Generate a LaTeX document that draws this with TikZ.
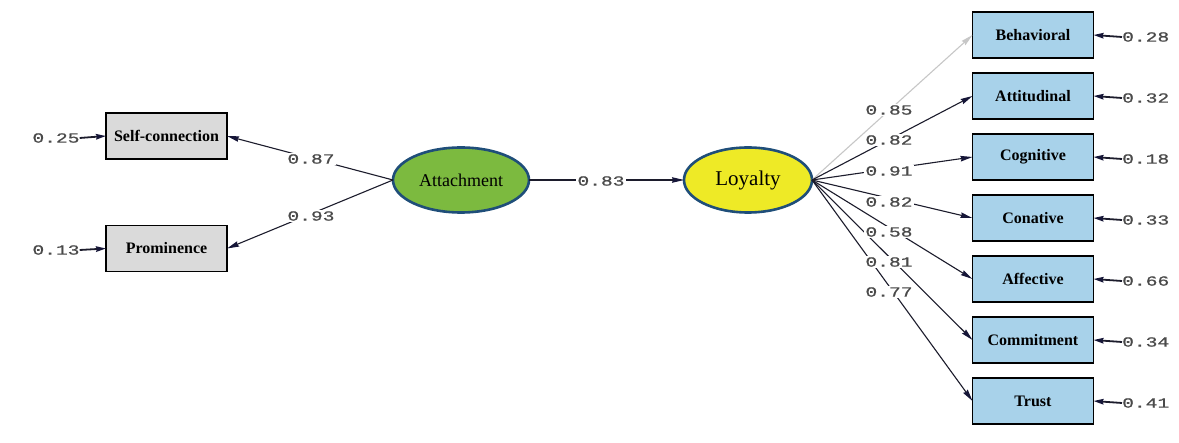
\documentclass[tikz,border=0pt]{standalone}
\usepackage{fontspec}
\setmainfont{Liberation Serif}
\newfontfamily\coeffont[FakeStretch=1.4,FakeBold=0.8]{Liberation Mono}
\usetikzlibrary{arrows.meta,shapes.geometric}

\definecolor{inkline}{HTML}{1C1C2C}
\definecolor{tipnavy}{HTML}{161638}
\definecolor{coefgray}{HTML}{4A4A4A}
\definecolor{obsgray}{HTML}{DADADA}
\definecolor{obsblue}{HTML}{A8D2EA}
\definecolor{latborder}{HTML}{1F4E79}
\definecolor{attgreen}{HTML}{7CBA3F}
\definecolor{loyyellow}{HTML}{EEEA26}

\tikzset{
  obsbox/.style={draw=black, line width=1.8pt, minimum width=121pt, minimum height=46pt,
    inner sep=0pt, outer sep=0pt, font=\fontsize{16}{18}\selectfont\bfseries},
  latent/.style={ellipse, draw=latborder, line width=2.6pt, inner sep=0pt, outer sep=0pt},
  path/.style={draw=inkline, line width=1.1pt,
    -{Stealth[length=12pt,width=5.5pt,inset=1pt,color=tipnavy]}},
  errpath/.style={draw=inkline, line width=1.8pt,
    -{Stealth[length=10pt,width=5.5pt,inset=1pt,color=tipnavy]}},
  coef/.style={fill=white, inner sep=1pt, text=coefgray, font=\coeffont\fontsize{14}{14}\selectfont},
  errlbl/.style={inner sep=0pt, text=coefgray, font=\coeffont\fontsize{14}{14}\selectfont}
}

\begin{document}
\begin{tikzpicture}[x=1pt,y=-1pt]
  \fill[white] (0,0) rectangle (1179,443);
  \useasboundingbox (0,0) rectangle (1179,443);

  % latent variables
  \node[latent, fill=attgreen, minimum width=136pt, minimum height=65pt,
        font=\fontsize{18}{20}\selectfont] (att) at (461,180) {Attachment};
  \node[latent, fill=loyyellow, minimum width=128pt, minimum height=65pt,
        font=\fontsize{21}{23}\selectfont] (loy) at (748,180) {Loyalty};

  % indicators of attachment
  \node[obsbox, fill=obsgray] (sc) at (166.5,136) {Self-connection};
  \node[obsbox, fill=obsgray] (pr) at (166.5,248.5) {Prominence};

  % indicators of loyalty
  \node[obsbox, fill=obsblue] (beh) at (1033,35)  {Behavioral};
  \node[obsbox, fill=obsblue] (atd) at (1033,96)  {Attitudinal};
  \node[obsbox, fill=obsblue] (cog) at (1033,157) {Cognitive};
  \node[obsbox, fill=obsblue] (con) at (1033,218) {Conative};
  \node[obsbox, fill=obsblue] (aff) at (1033,279) {Affective};
  \node[obsbox, fill=obsblue] (com) at (1033,340) {Commitment};
  \node[obsbox, fill=obsblue] (tru) at (1033,401) {Trust};

  % loadings
  \draw[path] (att.west) -- (sc.east);
  \draw[path] (att.west) -- (pr.east);
  \draw[path] (att.east) -- (loy.west);
  \draw[path, draw=black!22, -{Stealth[length=12pt,width=5.5pt,inset=1pt,color=black!22]}]
    (loy.east) -- (beh.west);
  \draw[path] (loy.east) -- (atd.west);
  \draw[path] (loy.east) -- (cog.west);
  \draw[path] (loy.east) -- (con.west);
  \draw[path] (loy.east) -- (aff.west);
  \draw[path] (loy.east) -- (com.west);
  \draw[path] (loy.east) -- (tru.west);

  % coefficient labels
  \node[coef] (c1) at (311,159) {0.87};
  \node[coef] (c2) at (311,216) {0.93};
  \node[coef] (c3) at (601,181) {0.83};
  \node[coef] (c4) at (889,110) {0.85};
  \node[coef] (c5) at (889,140) {0.82};
  \node[coef] (c6) at (889,171) {0.91};
  \node[coef] (c7) at (889,202) {0.82};
  \node[coef] (c8) at (889,232) {0.58};
  \node[coef] (c9) at (889,262) {0.81};
  \node[coef] (c10) at (889,292) {0.77};

  % error variances
  \node[errlbl] (e1) at (56,138) {0.25};
  \node[errlbl] (e2) at (56,250) {0.13};
  \draw[errpath] (e1.east) -- (sc.west);
  \draw[errpath] (e2.east) -- (pr.west);

  \node[errlbl, anchor=west] (e3) at (1122,37)  {0.28};
  \node[errlbl, anchor=west] (e4) at (1122,98)  {0.32};
  \node[errlbl, anchor=west] (e5) at (1122,159) {0.18};
  \node[errlbl, anchor=west] (e6) at (1122,220) {0.33};
  \node[errlbl, anchor=west] (e7) at (1122,281) {0.66};
  \node[errlbl, anchor=west] (e8) at (1122,342) {0.34};
  \node[errlbl, anchor=west] (e9) at (1122,403) {0.41};
  \draw[errpath] (e3.west) -- (beh.east);
  \draw[errpath] (e4.west) -- (atd.east);
  \draw[errpath] (e5.west) -- (cog.east);
  \draw[errpath] (e6.west) -- (con.east);
  \draw[errpath] (e7.west) -- (aff.east);
  \draw[errpath] (e8.west) -- (com.east);
  \draw[errpath] (e9.west) -- (tru.east);
\end{tikzpicture}
\end{document}
